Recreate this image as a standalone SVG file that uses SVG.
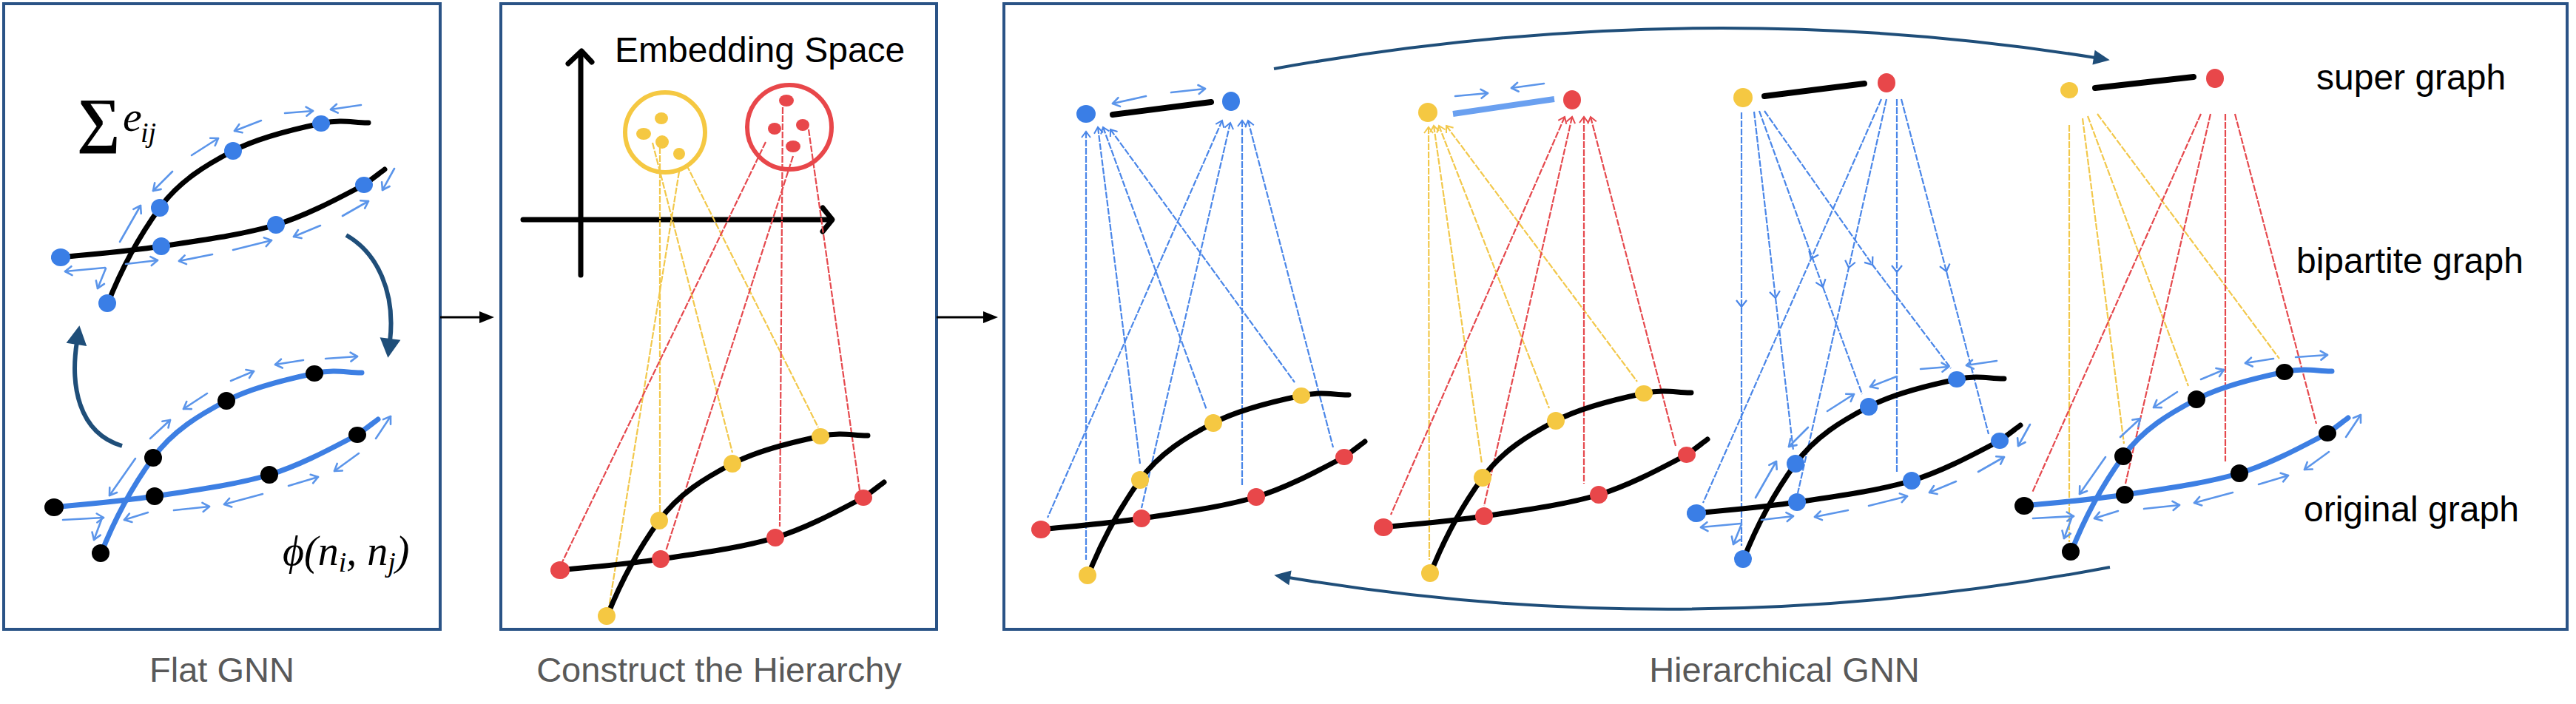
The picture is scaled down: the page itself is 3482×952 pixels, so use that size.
<svg xmlns="http://www.w3.org/2000/svg" width="3482" height="952" viewBox="0 0 3482 952">
<style>
.box{fill:none;stroke:#2a5386;stroke-width:4}
.cap{font-family:"Liberation Sans",Arial,sans-serif;font-size:47px;fill:#595959;text-anchor:middle}
.lbl{font-family:"Liberation Sans",Arial,sans-serif;font-size:48px;fill:#000}
.math{font-family:"Liberation Serif","DejaVu Serif",serif;font-style:italic;fill:#000}
.bl{fill:none;stroke:#4a86e8;stroke-width:2.2;stroke-dasharray:9 2}
.yl{fill:none;stroke:#f2c84b;stroke-width:2.2;stroke-dasharray:9 2}
.rl{fill:none;stroke:#e5484d;stroke-width:2.2;stroke-dasharray:9 2}
.sm{fill:none;stroke:#5b95ea;stroke-width:2.6;stroke-linecap:round;marker-end:url(#sa)}
.kc{fill:none;stroke:#000;stroke-width:7;stroke-linecap:round}
.bc{fill:none;stroke:#3d7fe3;stroke-width:7;stroke-linecap:round}
.flow{fill:none;stroke:#1f4e79;stroke-width:6}
.arc{fill:none;stroke:#1f4e79;stroke-width:4;marker-end:url(#ha)}
.conn{fill:none;stroke:#000;stroke-width:3;marker-end:url(#hk)}
.sup{fill:none;stroke:#000;stroke-width:8;stroke-linecap:round}
</style>
<defs>
<marker id="sa" markerUnits="userSpaceOnUse" orient="auto" overflow="visible" refX="0" refY="0"><path d="M-9,-6 L0,0 L-9,6" fill="none" stroke="#5b95ea" stroke-width="2.6" stroke-linecap="round" stroke-linejoin="round"/></marker>
<marker id="uaB" markerUnits="userSpaceOnUse" orient="auto-start-reverse" overflow="visible" refX="0" refY="0"><path d="M-8,-6 L0,0 L-8,6" fill="none" stroke="#4a86e8" stroke-width="2"/></marker>
<marker id="uaY" markerUnits="userSpaceOnUse" orient="auto-start-reverse" overflow="visible" refX="0" refY="0"><path d="M-8,-6 L0,0 L-8,6" fill="none" stroke="#f2c84b" stroke-width="2"/></marker>
<marker id="uaR" markerUnits="userSpaceOnUse" orient="auto-start-reverse" overflow="visible" refX="0" refY="0"><path d="M-8,-6 L0,0 L-8,6" fill="none" stroke="#e5484d" stroke-width="2"/></marker>
<marker id="mdB" markerUnits="userSpaceOnUse" orient="auto" overflow="visible" refX="0" refY="0"><path d="M-9,-7 L0,0 L-9,7" fill="none" stroke="#4a86e8" stroke-width="2.2"/></marker>
<marker id="hf" markerUnits="userSpaceOnUse" orient="auto" overflow="visible" refX="0" refY="0"><path d="M22,0 L-4,-14 L-4,14 Z" fill="#1f4e79"/></marker>
<marker id="ha" markerUnits="userSpaceOnUse" orient="auto" overflow="visible" refX="0" refY="0"><path d="M20,0 L-2,-10 L-2,10 Z" fill="#1f4e79"/></marker>
<marker id="hk" markerUnits="userSpaceOnUse" orient="auto" overflow="visible" refX="0" refY="0"><path d="M18,0 L-2,-8 L-2,8 Z" fill="#000"/></marker>
<g id="gc">
<path d="M1470,780 C1488.3,733.3 1514.3,685.7 1541,649 C1567.7,612.3 1603.7,591 1640,572 C1676.3,553 1728.5,541.3 1759,535 C1789.5,528.7 1801.7,534.3 1823,534"/>
<path d="M1398,717 C1447.7,711.7 1493.3,708.5 1543,701 C1592.7,693.5 1652.3,685.8 1698,672 C1743.7,658.2 1792.5,630.5 1817,618 C1826.3,611.3 1835.7,604 1845,597"/>
</g>
<g id="dS">
<ellipse cx="1470" cy="778" rx="12" ry="12"/><ellipse cx="1541" cy="649" rx="12" ry="12"/><ellipse cx="1640" cy="572" rx="12" ry="12"/><ellipse cx="1759" cy="535" rx="12" ry="11"/>
</g>
<g id="dL">
<ellipse cx="1407" cy="716" rx="13" ry="12"/><ellipse cx="1543" cy="701" rx="12" ry="12"/><ellipse cx="1698" cy="672" rx="12" ry="12"/><ellipse cx="1817" cy="618" rx="12" ry="11"/>
</g>
<g id="arrTop">
<path class="sm" d="M1710,521 L1748,518"/><path class="sm" d="M1813,510 L1772,516"/><path class="sm" d="M1678,531 L1642,545"/><path class="sm" d="M1584,578 L1620,555"/><path class="sm" d="M1558,600 L1532,626"/><path class="sm" d="M1487,695 L1515,646"/><path class="sm" d="M1858,596 L1842,625"/><path class="sm" d="M1788,660 L1823,640"/><path class="sm" d="M1758,673 L1722,688"/><path class="sm" d="M1640,706 L1692,693"/><path class="sm" d="M1612,712 L1567,721"/><path class="sm" d="M1495,725 L1538,720"/><path class="sm" d="M1467,730 L1413,735"/><path class="sm" d="M1468,731 L1457,758"/>
</g>
<g id="arrBot">
<path class="sm" d="M1774,515 L1817,512"/><path class="sm" d="M1744,517 L1706,523"/><path class="sm" d="M1646,545 L1677,532"/><path class="sm" d="M1614,562 L1582,583"/><path class="sm" d="M1537,623 L1564,598"/><path class="sm" d="M1517,650 L1482,700"/><path class="sm" d="M1842,623 L1862,593"/><path class="sm" d="M1819,643 L1786,667"/><path class="sm" d="M1724,687 L1764,675"/><path class="sm" d="M1689,698 L1637,712"/><path class="sm" d="M1569,720 L1617,715"/><path class="sm" d="M1534,723 L1502,733"/><path class="sm" d="M1419,733 L1474,730"/><path class="sm" d="M1471,733 L1461,760"/>
</g>
</defs>
<rect width="3482" height="952" fill="#fff"/>

<!-- Panel 1: Flat GNN -->
<g id="panel-flat">
<rect class="box" x="5" y="5" width="590" height="846"/>
<text class="math" x="104" y="190" font-size="82" font-style="normal" font-weight="bold">∑</text>
<text class="math" x="166" y="177" font-size="58">e</text>
<text class="math" x="190" y="192" font-size="38">ij</text>
<g id="flat-top-graph">
<use href="#gc" class="kc" transform="translate(-1325,-368)"/>
<use href="#arrTop" transform="translate(-1325,-368)"/>
<use href="#dS" fill="#3a7ee6" transform="translate(-1325,-368)"/>
<use href="#dL" fill="#3a7ee6" transform="translate(-1325,-368)"/>
</g>
<g id="flat-bottom-graph">
<use href="#gc" class="bc" transform="translate(-1334,-30)"/>
<use href="#arrBot" transform="translate(-1334,-30)"/>
<use href="#dS" fill="#000" transform="translate(-1334,-30)"/>
<use href="#dL" fill="#000" transform="translate(-1334,-30)"/>
</g>
<path class="flow" d="M468,318 C510,342 535,395 527,462" marker-end="url(#hf)"/>
<path class="flow" d="M165,603 C105,585 95,520 104,462" marker-end="url(#hf)"/>
<text class="math" x="382" y="764" font-size="56">ϕ(n<tspan font-size="38" dy="9">i</tspan><tspan dy="-9">, n</tspan><tspan font-size="38" dy="9">j</tspan><tspan dy="-9">)</tspan></text>
<text class="cap" x="300" y="922">Flat GNN</text>
</g>

<!-- Panel 2: Construct the Hierarchy -->
<g id="panel-construct">
<rect class="box" x="677" y="5" width="589" height="846"/>
<text class="lbl" x="831" y="84">Embedding Space</text>
<g id="axes" fill="none" stroke="#000" stroke-width="7" stroke-linecap="round" stroke-linejoin="round">
<path d="M785,72 L785,372"/>
<path d="M768,86 L786,69 L800,84"/>
<path d="M707,297 L1122,297"/>
<path d="M1112,281 L1125,297 L1112,313"/>
</g>
<g id="cluster-yellow">
<circle cx="899" cy="179" r="54" fill="none" stroke="#f5c842" stroke-width="6"/>
<ellipse cx="894" cy="160" rx="9" ry="8" fill="#f5c842"/><ellipse cx="870" cy="181" rx="10" ry="8" fill="#f5c842"/><ellipse cx="895" cy="192" rx="9" ry="9" fill="#f5c842"/><ellipse cx="918" cy="208" rx="8" ry="8" fill="#f5c842"/>
</g>
<g id="cluster-red">
<circle cx="1067" cy="172" r="57" fill="none" stroke="#e8474a" stroke-width="6"/>
<ellipse cx="1063" cy="136" rx="10" ry="8" fill="#e8474a"/><ellipse cx="1047" cy="174" rx="9" ry="8" fill="#e8474a"/><ellipse cx="1085" cy="169" rx="9" ry="8" fill="#e8474a"/><ellipse cx="1072" cy="198" rx="10" ry="8" fill="#e8474a"/>
</g>
<g id="construct-links">
<path class="yl" d="M892,199 L892,692"/><path class="yl" d="M918,232 L823,822"/><path class="yl" d="M882,193 L990,612"/><path class="yl" d="M928,223 L1106,578"/>
<path class="rl" d="M1035,192 L760,760"/><path class="rl" d="M1072,211 L900,745"/><path class="rl" d="M1058,145 L1054,712"/><path class="rl" d="M1093,175 L1162,663"/>
</g>
<g id="construct-graph">
<use href="#gc" class="kc" transform="translate(-650,55)"/>
<use href="#dS" fill="#f5c842" transform="translate(-650,55)"/>
<use href="#dL" fill="#e8474a" transform="translate(-650,55)"/>
</g>
<text class="cap" x="972" y="922">Construct the Hierarchy</text>
</g>

<!-- connectors between panels -->
<g id="connectors">
<path class="conn" d="M595,429 L650,429"/>
<path class="conn" d="M1266,429 L1331,429"/>
<path class="arc" d="M1722,93 Q2290,-9 2832,78"/>
<path class="arc" d="M2852,767 Q2290,873 1742,781"/>
</g>

<!-- Panel 3: Hierarchical GNN -->
<g id="panel-hier">
<rect class="box" x="1357" y="5" width="2113" height="846"/>

<g id="stage-a">
<g id="a-links">
<path class="bl" marker-start="url(#uaB)" d="M1468,178 L1468,757"/><path class="bl" marker-start="url(#uaB)" d="M1484,172 L1541,627"/><path class="bl" marker-start="url(#uaB)" d="M1491,172 L1631,554"/><path class="bl" marker-start="url(#uaB)" d="M1501,175 L1750,517"/>
<path class="bl" marker-start="url(#uaB)" d="M1652,163 L1416,700"/><path class="bl" marker-start="url(#uaB)" d="M1663,166 L1543,687"/><path class="bl" marker-start="url(#uaB)" d="M1679,163 L1679,657"/><path class="bl" marker-start="url(#uaB)" d="M1687,163 L1802,605"/>
</g>
<g id="a-super">
<path class="sup" d="M1504,155 L1637,138"/>
<ellipse cx="1468" cy="154" rx="13" ry="12" fill="#3a7ee6"/><ellipse cx="1664" cy="137" rx="12" ry="13" fill="#3a7ee6"/>
<path class="sm" d="M1549,130 L1504,140"/><path class="sm" d="M1583,125 L1629,120"/>
</g>
<g id="a-graph">
<use href="#gc" class="kc"/>
<use href="#dS" fill="#f5c842"/>
<use href="#dL" fill="#e8474a"/>
</g>
</g>

<g id="stage-b">
<g id="b-links">
<path class="yl" marker-start="url(#uaY)" d="M1931,172 L1932,757"/><path class="yl" marker-start="url(#uaY)" d="M1938,170 L2003,627"/><path class="yl" marker-start="url(#uaY)" d="M1945,170 L2094,552"/><path class="yl" marker-start="url(#uaY)" d="M1955,170 L2213,516"/>
<path class="rl" marker-start="url(#uaR)" d="M2115,158 L1880,696"/><path class="rl" marker-start="url(#uaR)" d="M2125,158 L2006,684"/><path class="rl" marker-start="url(#uaR)" d="M2141,158 L2141,654"/><path class="rl" marker-start="url(#uaR)" d="M2150,158 L2265,603"/>
</g>
<g id="b-super">
<path d="M1964,154 L2101,134" stroke="#6aa0f0" stroke-width="8" fill="none"/>
<ellipse cx="1930" cy="152" rx="13" ry="13" fill="#f5c842"/><ellipse cx="2125" cy="135" rx="12" ry="13" fill="#e8474a"/>
<path class="sm" d="M1967,130 L2011,126"/><path class="sm" d="M2087,113 L2043,119"/>
</g>
<g id="b-graph" transform="translate(463,-3)">
<use href="#gc" class="kc"/>
<use href="#dS" fill="#f5c842"/>
<use href="#dL" fill="#e8474a"/>
</g>
</g>

<g id="stage-c">
<g id="c-links">
<path class="bl" marker-mid="url(#mdB)" d="M2354,152 L2354,415 L2354,738"/><path class="bl" marker-mid="url(#mdB)" d="M2371,151 L2400,403 L2424,609"/><path class="bl" marker-mid="url(#mdB)" d="M2378,150 L2464,388 L2517,533"/><path class="bl" marker-mid="url(#mdB)" d="M2385,150 L2531,358 L2637,498"/>
<path class="bl" marker-mid="url(#mdB)" d="M2543,134 L2448,350 L2302,680"/><path class="bl" marker-mid="url(#mdB)" d="M2550,134 L2499,362 L2430,667"/><path class="bl" marker-mid="url(#mdB)" d="M2564,134 L2564,368 L2564,640"/><path class="bl" marker-mid="url(#mdB)" d="M2570,134 L2631,367 L2688,587"/>
</g>
<g id="c-super">
<path class="sup" d="M2385,130 L2520,113"/>
<ellipse cx="2356" cy="132" rx="13" ry="13" fill="#f5c842"/><ellipse cx="2550" cy="112" rx="12" ry="13" fill="#e8474a"/>
</g>
<g id="c-graph" transform="translate(886,-22)">
<use href="#gc" class="kc"/>
<use href="#arrTop"/>
<use href="#dS" fill="#3a7ee6"/>
<use href="#dL" fill="#3a7ee6"/>
</g>
</g>

<g id="stage-d">
<g id="d-links">
<path class="yl" d="M2797,169 L2797,733"/><path class="yl" d="M2815,160 L2871,600"/><path class="yl" d="M2822,157 L2958,522"/><path class="yl" d="M2835,154 L3081,485"/>
<path class="rl" d="M2975,154 L2747,666"/><path class="rl" d="M2988,154 L2873,654"/><path class="rl" d="M3008,154 L3008,624"/><path class="rl" d="M3021,154 L3131,573"/>
</g>
<g id="d-super">
<path class="sup" d="M2832,119 L2965,104"/>
<ellipse cx="2797" cy="122" rx="12" ry="11" fill="#f5c842"/><ellipse cx="2994" cy="106" rx="12" ry="13" fill="#e8474a"/>
</g>
<g id="d-graph" transform="translate(1329,-32)">
<use href="#gc" class="bc"/>
<use href="#arrBot"/>
<use href="#dS" fill="#000"/>
<use href="#dL" fill="#000"/>
</g>
</g>

<text class="lbl" x="3131" y="121">super graph</text>
<text class="lbl" x="3104" y="369">bipartite graph</text>
<text class="lbl" x="3114" y="705">original graph</text>
<text class="cap" x="2412" y="922">Hierarchical GNN</text>
</g>
</svg>
